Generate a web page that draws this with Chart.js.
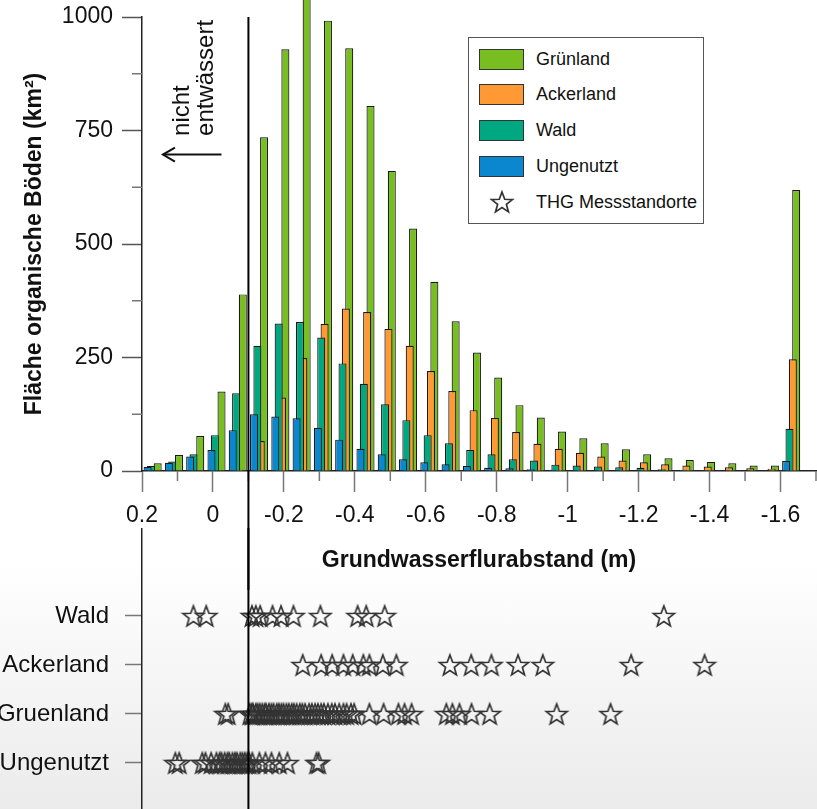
<!DOCTYPE html>
<html lang="de">
<head>
    <meta charset="UTF-8">
    <title>Grundwasserflurabstand organischer Böden</title>
    <script src="https://cdn.jsdelivr.net/npm/chart.js"></script>
    <style>
        html, body { margin: 0; padding: 0; }
        body {
            width: 817px; height: 809px; overflow: hidden; position: relative;
            background: linear-gradient(to bottom, #fff 0px, #fff 560px, #ebebeb 809px);
            font-family: "Liberation Sans", Arial, sans-serif;
        }
        #bottomChart { position: absolute; left: 0; top: 528px; }
        #topChart { position: absolute; left: 0; top: 0; }
        #legend {
            position: absolute; left: 468px; top: 37px; width: 236px; height: 187px;
            border: 1px solid #555; background: #fff; box-sizing: border-box;
        }
        .item { position: absolute; left: 0; height: 22px; display: flex; align-items: center; font-size: 18px; color: #111; }
        .swatch { width: 45px; height: 21px; border: 1px solid #333; box-sizing: border-box; margin-left: 10px; margin-right: 12px; }
        .staricon { width: 45px; height: 22px; margin-left: 10px; margin-right: 12px; display: flex; justify-content: center; align-items: center; }
    </style>
</head>
<body>
    <canvas id="bottomChart" width="817" height="281"></canvas>
    <canvas id="topChart" width="817" height="590"></canvas>
    <div id="legend"></div>

    <script>
        // bin centres of the histogram (m)
        const binCenters = [0.17, 0.11, 0.05, -0.01, -0.07, -0.13, -0.19, -0.25, -0.31, -0.37, -0.43,
            -0.49, -0.55, -0.61, -0.67, -0.73, -0.79, -0.85, -0.91, -0.97, -1.03, -1.09, -1.15,
            -1.21, -1.27, -1.33, -1.39, -1.45, -1.51, -1.57, -1.63];

        // area per bin (km²)
        const gruenland = [17, 35, 77, 175, 389, 735, 929, 1060, 992, 931, 804, 661, 534, 417, 330,
            261, 206, 145, 118, 87, 72, 61, 48, 37, 28, 24, 20, 17, 12, 12, 619];
        const ackerland = [0, 0, 1, 2, 3, 66, 162, 249, 324, 358, 350, 313, 276, 220, 176,
            134, 117, 86, 60, 49, 40, 32, 23, 19, 15, 12, 10, 8, 6, 5, 246];
        const wald = [11, 21, 37, 79, 171, 276, 325, 328, 294, 237, 192, 147, 112, 79, 61,
            46, 37, 26, 23, 14, 12, 10, 8, 7, 4, 3, 2, 1, 1, 1, 93];
        const ungenutzt = [9, 18, 32, 46, 90, 125, 120, 116, 95, 69, 49, 37, 26, 19, 15,
            11, 7, 6, 4, 3, 2, 1, 1, 1, 0, 0, 0, 0, 0, 0, 22];

        // THG measuring sites, groundwater level (m)
        const siteCategories = ['Wald', 'Ackerland', 'Gruenland', 'Ungenutzt'];
        const sitesWald = [0.055, 0.019, -0.110, -0.121, -0.133, -0.168, -0.192, -0.227, -0.303,
            -0.408, -0.432, -0.484, -1.271];
        const sitesAcker = [-0.253, -0.305, -0.336, -0.368, -0.394, -0.424, -0.441, -0.479, -0.517,
            -0.668, -0.728, -0.785, -0.860, -0.930, -1.179, -1.386];
        const sitesGruen = [-0.035, -0.043, -0.104, -0.110, -0.113, -0.121, -0.126, -0.132, -0.139,
            -0.146, -0.150, -0.158, -0.165, -0.171, -0.180, -0.186, -0.193, -0.199, -0.207, -0.214,
            -0.222, -0.228, -0.236, -0.245, -0.252, -0.260, -0.271, -0.279, -0.288, -0.296, -0.305,
            -0.313, -0.324, -0.335, -0.344, -0.356, -0.368, -0.377, -0.389, -0.398, -0.441, -0.481,
            -0.523, -0.540, -0.560, -0.658, -0.675, -0.695, -0.729, -0.780, -0.969, -1.121];
        const sitesUngenutzt = [0.106, 0.095, 0.030, 0.021, 0.005, -0.010, -0.019, -0.024, -0.033,
            -0.041, -0.046, -0.055, -0.062, -0.068, -0.077, -0.083, -0.090, -0.097, -0.102, -0.111,
            -0.131, -0.148, -0.165, -0.187, -0.210, -0.292, -0.298];

        const drainLimit = -0.1;
        const font = '"Liberation Sans", Arial, sans-serif';
        Chart.defaults.font.family = font;
        Chart.defaults.color = '#111';

        // front to back: blue is drawn on top, green at the back
        const series = [
            { label: 'Ungenutzt', values: ungenutzt, color: '#0b87d0' },
            { label: 'Wald', values: wald, color: '#00a882' },
            { label: 'Ackerland', values: ackerland, color: '#ff9933' },
            { label: 'Grünland', values: gruenland, color: '#78be20' }
        ];

        function makeStar(size, lw) {
            const c = document.createElement('canvas');
            c.width = size; c.height = size;
            const g = c.getContext('2d');
            const cx = size / 2, cy = size / 2 + 1, R = size / 2 - 2, r = R * 0.42;
            g.beginPath();
            for (let i = 0; i < 10; i++) {
                const a = -Math.PI / 2 + i * Math.PI / 5;
                const rr = i % 2 ? r : R;
                g.lineTo(cx + rr * Math.cos(a), cy + rr * Math.sin(a));
            }
            g.closePath();
            g.lineWidth = lw;
            g.strokeStyle = '#333';
            g.stroke();
            return c;
        }
        const star = makeStar(26, 1.7);

        const numLabel = v => String(Number(v.toFixed(1)));
        // keep the plot area exactly where the axes are set, no label padding
        const noPad = s => { s.paddingTop = 0; s.paddingBottom = 0; s.paddingLeft = 0; s.paddingRight = 0; };

        // minor ticks, nicht entwässert note and the drainage line
        const topDecor = {
            id: 'topDecor',
            afterDraw(chart) {
                const { ctx, chartArea, scales: { x, y } } = chart;
                ctx.save();
                ctx.strokeStyle = '#777';
                ctx.lineWidth = 1.5;
                x.ticks.map(t => t.value - 0.1).filter(v => v >= x.min - 1e-9).forEach(v => {
                    const px = x.getPixelForValue(v);
                    ctx.beginPath(); ctx.moveTo(px, chartArea.bottom); ctx.lineTo(px, chartArea.bottom + 10); ctx.stroke();
                });
                y.ticks.map(t => t.value + 125).filter(v => v < y.max).forEach(v => {
                    const py = y.getPixelForValue(v);
                    ctx.beginPath(); ctx.moveTo(chartArea.left - 10, py); ctx.lineTo(chartArea.left, py); ctx.stroke();
                });

                const lx = x.getPixelForValue(drainLimit);
                ctx.strokeStyle = '#000';
                ctx.lineWidth = 2;
                ctx.beginPath(); ctx.moveTo(lx, chartArea.top); ctx.lineTo(lx, chart.height); ctx.stroke();

                // note
                ctx.fillStyle = '#111';
                ctx.font = '24px ' + font;
                ctx.textAlign = 'left';
                ctx.textBaseline = 'alphabetic';
                const ty = y.getPixelForValue(738);
                [['nicht', 0.068], ['entwässert', 0.0]].forEach(([txt, xv]) => {
                    ctx.save();
                    ctx.translate(x.getPixelForValue(xv), ty);
                    ctx.rotate(-Math.PI / 2);
                    ctx.fillText(txt, 0, 0);
                    ctx.restore();
                });
                const ay = y.getPixelForValue(697);
                const ax0 = x.getPixelForValue(-0.024), ax1 = x.getPixelForValue(0.141);
                ctx.strokeStyle = '#111';
                ctx.lineWidth = 2;
                ctx.beginPath(); ctx.moveTo(ax0, ay); ctx.lineTo(ax1, ay); ctx.stroke();
                ctx.beginPath();
                ctx.moveTo(ax1 + 12, ay - 7); ctx.lineTo(ax1, ay); ctx.lineTo(ax1 + 12, ay + 7);
                ctx.stroke();
                ctx.restore();
            }
        };

        new Chart(document.getElementById('topChart'), {
            type: 'bar',
            data: {
                datasets: series.map(s => ({
                    label: s.label,
                    data: binCenters.map((xv, i) => ({ x: xv, y: s.values[i] })),
                    backgroundColor: s.color,
                    borderColor: '#1a1a1a',
                    borderWidth: 1.2,
                    categoryPercentage: 0.63,
                    barPercentage: 2.4,
                    clip: false
                }))
            },
            options: {
                responsive: false,
                animation: false,
                layout: { autoPadding: false, padding: { top: 17, right: 1, bottom: 0, left: 0 } },
                plugins: { legend: { display: false }, tooltip: { enabled: false } },
                scales: {
                    x: {
                        type: 'linear', min: -1.7, max: 0.2, reverse: true, offset: false,
                        afterFit: s => { noPad(s); s.height = 119; },
                        ticks: { stepSize: 0.2, includeBounds: false, autoSkip: false, maxRotation: 0,
                            callback: numLabel, font: { size: 23 }, padding: 10 },
                        grid: { offset: false, drawOnChartArea: false, tickLength: 21, tickColor: '#777', tickWidth: 1.5 },
                        border: { color: '#222', width: 1.5 },
                        title: { display: true, text: 'Grundwasserflurabstand (m)',
                            font: { size: 23, weight: 'bold' }, padding: { top: 0, bottom: 16 } }
                    },
                    y: {
                        min: 0, max: 1000,
                        afterFit: s => { noPad(s); s.width = 142; },
                        ticks: { stepSize: 250, font: { size: 23 }, padding: 9, callback: v => String(v) },
                        grid: { drawOnChartArea: false, tickLength: 20, tickColor: '#555', tickWidth: 1.5 },
                        border: { color: '#222', width: 1.5 },
                        title: { display: true, text: 'Fläche organische Böden (km²)',
                            font: { size: 23, weight: 'bold' }, padding: { top: 21, bottom: 0 } }
                    }
                }
            },
            plugins: [topDecor]
        });

        const bottomDecor = {
            id: 'bottomDecor',
            afterDraw(chart) {
                const { ctx, chartArea, scales: { x } } = chart;
                const lx = x.getPixelForValue(drainLimit);
                ctx.save();
                ctx.strokeStyle = '#000';
                ctx.lineWidth = 2;
                ctx.beginPath(); ctx.moveTo(lx, chartArea.top); ctx.lineTo(lx, chartArea.bottom); ctx.stroke();
                ctx.restore();
            }
        };

        const siteRows = [sitesWald, sitesAcker, sitesGruen, sitesUngenutzt];
        const nCat = siteCategories.length;
        new Chart(document.getElementById('bottomChart'), {
            type: 'scatter',
            data: {
                datasets: siteRows.map((vals, i) => ({
                    label: siteCategories[i],
                    data: vals.map(xv => ({ x: xv, y: nCat - i })),
                    pointStyle: star,
                    pointRadius: 10,
                    pointHoverRadius: 10
                }))
            },
            options: {
                responsive: false,
                animation: false,
                layout: { autoPadding: false, padding: { top: 0, right: 1, bottom: 0, left: 0 } },
                plugins: { legend: { display: false }, tooltip: { enabled: false } },
                scales: {
                    x: { type: 'linear', min: -1.7, max: 0.2, reverse: true, display: false },
                    y: {
                        type: 'linear', min: 0.061, max: 5.796,
                        afterFit: s => { noPad(s); s.width = 142; },
                        afterBuildTicks: s => { s.ticks = siteCategories.map((c, i) => ({ value: nCat - i })); },
                        ticks: { callback: v => siteCategories[nCat - v], font: { size: 24 }, padding: 16 },
                        grid: { drawOnChartArea: false, tickLength: 17, tickColor: '#777', tickWidth: 1.5 },
                        border: { color: '#222', width: 1.5 }
                    }
                }
            },
            plugins: [bottomDecor]
        });

        // legend
        const legend = document.getElementById('legend');
        const legendRows = series.slice().reverse().concat([{ label: 'THG Messstandorte', star: true }]);
        legendRows.forEach((s, i) => {
            const row = document.createElement('div');
            row.className = 'item';
            row.style.top = (10 + i * 35.8) + 'px';
            if (s.star) {
                const ic = document.createElement('div');
                ic.className = 'staricon';
                ic.appendChild(makeStar(26, 1.7));
                row.appendChild(ic);
            } else {
                const sw = document.createElement('div');
                sw.className = 'swatch';
                sw.style.background = s.color;
                row.appendChild(sw);
            }
            const t = document.createElement('span');
            t.textContent = s.label;
            row.appendChild(t);
            legend.appendChild(row);
        });
    </script>
</body>
</html>
